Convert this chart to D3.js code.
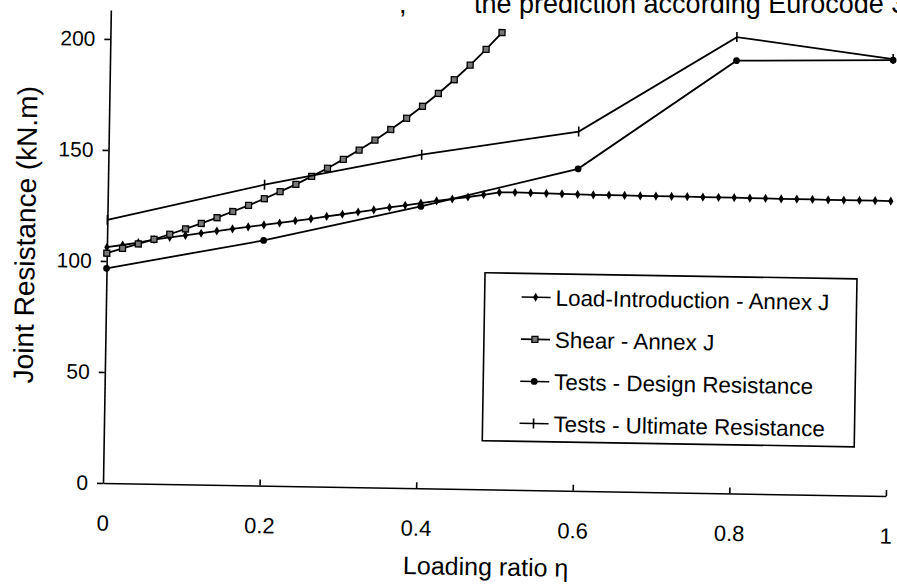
<!DOCTYPE html>
<html>
<head>
<meta charset="utf-8">
<script src="https://cdn.jsdelivr.net/npm/d3@7/dist/d3.min.js"></script>
<style>
body { margin: 0; background: #fff; }
svg text { font-family: "Liberation Sans", Arial, Helvetica, sans-serif; fill: #000; }
</style>
</head>
<body>
<div id="chart"></div>
<script>
let width = 897,
height = 588;

// loading ratio for the Annex J curves (step 0.02)
let etaAnnex = [0, 0.02, 0.04, 0.06, 0.08, 0.1, 0.12, 0.14, 0.16, 0.18,
    0.2, 0.22, 0.24, 0.26, 0.28, 0.3, 0.32, 0.34, 0.36, 0.38,
    0.4, 0.42, 0.44, 0.46, 0.48, 0.5, 0.52, 0.54, 0.56, 0.58,
    0.6, 0.62, 0.64, 0.66, 0.68, 0.7, 0.72, 0.74, 0.76, 0.78,
    0.8, 0.82, 0.84, 0.86, 0.88, 0.9, 0.92, 0.94, 0.96, 0.98, 1];

let loadIntro = [106.2, 107.3, 108.5, 110.0, 111.1, 112.1, 113.2, 114.3, 115.4, 116.4,
    117.4, 118.4, 119.5, 120.5, 121.7, 122.8, 123.9, 125.0, 126.2, 127.3,
    128.4, 129.5, 130.5, 131.5, 132.6, 133.8, 133.9, 133.8, 133.7, 133.6,
    133.5, 133.4, 133.4, 133.4, 133.3, 133.3, 133.3, 133.3, 133.2, 133.2,
    133.2, 133.1, 133.1, 133.0, 133.0, 133.0, 132.9, 132.9, 132.9, 132.9, 132.8];

let shear = [103.5, 105.8, 107.9, 110.1, 112.5, 115.0, 117.6, 120.3, 123.2, 126.1,
    129.2, 132.5, 135.9, 139.6, 143.4, 147.5, 151.8, 156.4, 161.3, 166.5,
    172.0, 177.9, 184.2, 190.9, 198.1, 205.8];

// tests
let etaTests = [0, 0.2, 0.4, 0.6, 0.8, 1];
let testsDesign = [96.7, 110.4, 126.9, 145.0, 194.9, 196.3];
let testsUltimate = [118.5, 135.5, 150.2, 161.8, 205.5, 196.8];

let xTicks = [0, 0.2, 0.4, 0.6, 0.8, 1];
let yTicks = [0, 50, 100, 150, 200];
let legendNames = ["Load-Introduction - Annex J", "Shear - Annex J",
    "Tests - Design Resistance", "Tests - Ultimate Resistance"];

let svg = d3.select("#chart")
    .append("svg")
    .attr("width", width)
    .attr("height", height);

svg.append("rect").attr("width", width).attr("height", height).attr("fill", "#fff");

// title, cut off at the top of the scan
let title = svg.append("text")
    .attr("y", 13)
    .attr("font-size", 27);
title.append("tspan").attr("x", 399).text(",");
title.append("tspan").attr("x", 474).text("the prediction according Eurocode 3");

// the scanned figure is tilted a little, so the plot is drawn in a rotated group
let g = svg.append("g")
    .attr("transform", "translate(103,483) rotate(0.95)");

let x = d3.scaleLinear().domain([0, 1]).range([0, 783]);
let y = d3.scaleLinear().domain([0, 213]).range([0, -473]);

//x axis, ticks pointing up
let xAxis = g.append("g")
    .call(d3.axisBottom(x)
        .tickValues(xTicks)
        .tickSizeInner(-6)
        .tickSizeOuter(0)
        .tickPadding(32)
        .tickFormat(d3.format("")));

//y axis
let yAxis = g.append("g")
    .call(d3.axisLeft(y)
        .tickValues(yTicks)
        .tickSize(6)
        .tickSizeOuter(0)
        .tickPadding(9));

xAxis.attr("font-size", 22).attr("font-family", null);
yAxis.attr("font-size", 21).attr("font-family", null);
[xAxis, yAxis].forEach(function(a){
    a.selectAll("path, line").attr("stroke", "#000").attr("stroke-width", 1.6);
});
xAxis.select(".tick").select("line").remove(); // no tick at 0

g.append("text")
    .attr("x", 384)
    .attr("y", 86)
    .attr("text-anchor", "middle")
    .attr("font-size", 25)
    .text("Loading ratio η");

g.append("text")
    .attr("transform", "translate(-72,-247) rotate(-90)")
    .attr("text-anchor", "middle")
    .attr("font-size", 28)
    .text("Joint Resistance (kN.m)");

let line = d3.line()
    .x(function(d){ return x(d[0]); })
    .y(function(d){ return y(d[1]); });

let loadPts = etaAnnex.map(function(e, i){ return [e, loadIntro[i]]; });
let shearPts = shear.map(function(v, i){ return [etaAnnex[i], v]; });
let designPts = etaTests.map(function(e, i){ return [e, testsDesign[i]]; });
let ultPts = etaTests.map(function(e, i){ return [e, testsUltimate[i]]; });

let series = [loadPts, shearPts, designPts, ultPts];

let diamond = d3.symbol().type(d3.symbolDiamond).size(24);
let square = d3.symbol().type(d3.symbolSquare).size(36);

function drawMarker(sel, k){
    if (k === 0){
        sel.append("path").attr("d", diamond).attr("fill", "#000");
    }
    else if (k === 1){
        sel.append("path").attr("d", square)
            .attr("fill", "#777").attr("stroke", "#000").attr("stroke-width", 1.3);
    }
    else if (k === 2){
        sel.append("circle").attr("r", 3.4).attr("fill", "#000");
    }
    else{
        sel.append("line").attr("y1", -5).attr("y2", 5)
            .attr("stroke", "#000").attr("stroke-width", 1.6);
    }
}

series.forEach(function(pts, k){
    g.append("path")
        .datum(pts)
        .attr("d", line)
        .attr("fill", "none")
        .attr("stroke", "#000")
        .attr("stroke-width", 1.8);
    g.append("g").selectAll("g")
        .data(pts)
        .enter()
        .append("g")
        .attr("transform", function(d){ return "translate(" + x(d[0]) + "," + y(d[1]) + ")"; })
        .each(function(){ drawMarker(d3.select(this), k); });
});

//legend
let legend = g.append("g").attr("transform", "translate(378.5,-216.6)");
legend.append("rect")
    .attr("width", 372)
    .attr("height", 168)
    .attr("fill", "#fff")
    .attr("stroke", "#000")
    .attr("stroke-width", 1.6);

legendNames.forEach(function(name, k){
    let row = legend.append("g").attr("transform", "translate(0," + (23.7 + k * 42.1) + ")");
    row.append("line")
        .attr("x1", 37).attr("x2", 66)
        .attr("stroke", "#000").attr("stroke-width", 1.6);
    drawMarker(row.append("g").attr("transform", "translate(51,0)"), k);
    row.append("text")
        .attr("x", 71)
        .attr("dy", "0.36em")
        .attr("font-size", 22.4)
        .text(name);
});
</script>
</body>
</html>
